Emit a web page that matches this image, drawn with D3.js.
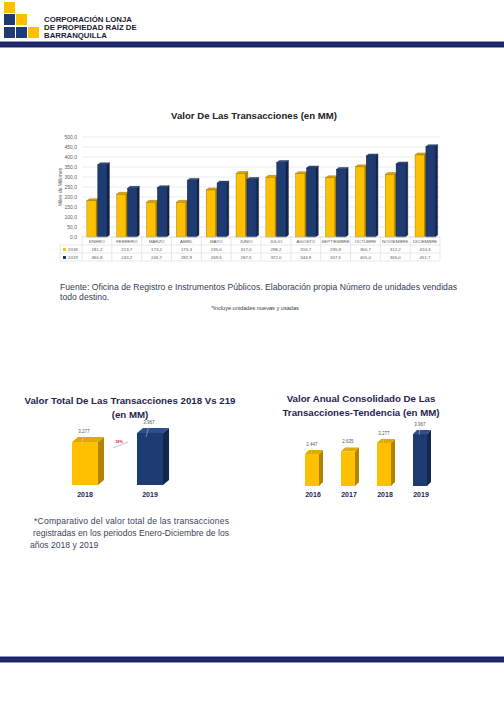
<!DOCTYPE html>
<html><head><meta charset="utf-8">
<script src="https://cdn.jsdelivr.net/npm/d3@7"></script>
<style>body{margin:0;background:#fff}svg{display:block}</style>
</head><body>
<svg id="c" width="504" height="705"></svg>
<script>
const months = ["ENERO","FEBRERO","MARZO","ABRIL","MAYO","JUNIO","JULIO","AGOSTO","SEPTIEMBRE","OCTUBRE","NOVIEMBRE","DICIEMBRE"];
const series = ["2018","2019"];
const values2018 = [181.2,213.7,173.2,173.3,235.0,317.0,298.2,316.7,295.9,350.7,312.2,410.3];
const values2019 = [360.8,243.2,246.7,282.9,269.5,287.5,372.0,344.9,337.5,405.0,365.0,451.7];
const yTicks = [0,50,100,150,200,250,300,350,400,450,500];
const totalYears = ["2018","2019"];
const totalValues = [3277,3967];
const changeLabel = "18%";
const annualYears = ["2016","2017","2018","2019"];
const annualValues = [2447,2635,3277,3967];

const svg = d3.select("#c");
const YEL = {front:"#FFC000", side:"#B08400", top:"#E0A800", stroke:"#8a6a00"};
const NAV = {front:"#1F3B73", side:"#13264D", top:"#2E4F8F", stroke:"#0c1a36"};
const fmtComma = v => v.toFixed(1).replace(".", ",");
const fmtDot = v => d3.format(",")(v).replace(",", ".");

function bar3d(g, x, yTop, w, yBase, dx, dy, c, sw) {
  const h = yBase - yTop;
  g.append("path").attr("d", `M${x+w},${yTop} L${x+w+dx},${yTop-dy} L${x+w+dx},${yBase-dy} L${x+w},${yBase} Z`).attr("fill", c.side).attr("stroke", c.stroke).attr("stroke-width", sw);
  g.append("path").attr("d", `M${x},${yTop} L${x+dx},${yTop-dy} L${x+w+dx},${yTop-dy} L${x+w},${yTop} Z`).attr("fill", c.top).attr("stroke", c.stroke).attr("stroke-width", sw);
  g.append("rect").attr("x", x).attr("y", yTop).attr("width", w).attr("height", h).attr("fill", c.front).attr("stroke", sw ? c.stroke : "none").attr("stroke-width", sw);
}

// ---------- Header ----------
const hdr = svg.append("g");
const sq = [[4,2,"#FFC000"],[4,14,"#1F3B73"],[16,14,"#FFC000"],[4,27,"#1F3B73"],[16,27,"#1F3B73"],[28,27,"#FFC000"]];
sq.forEach(s => hdr.append("rect").attr("x", s[0]).attr("y", s[1]).attr("width", 11).attr("height", 11).attr("fill", s[2]));
["CORPORACIÓN LONJA","DE PROPIEDAD RAÍZ DE","BARRANQUILLA"].forEach((t,i) =>
  hdr.append("text").attr("x", 44).attr("y", 21.5 + i*8).attr("font-family", "Liberation Sans Narrow, Liberation Sans, sans-serif")
    .attr("font-weight", "bold").attr("font-size", 7.8).attr("fill", "#1a1a33").text(t));
function band(y) {
  svg.append("rect").attr("x", 0).attr("y", y).attr("width", 504).attr("height", 7).attr("fill", "#8f97c4");
  svg.append("rect").attr("x", 0).attr("y", y+1).attr("width", 504).attr("height", 5).attr("fill", "#1c2260");
  svg.append("rect").attr("x", 0).attr("y", y+3).attr("width", 504).attr("height", 0.8).attr("fill", "#2f3a80");
}
band(41);
band(656);

// ---------- Main chart ----------
const main = svg.append("g");
main.append("text").attr("x", 254).attr("y", 119).attr("text-anchor", "middle")
  .attr("font-family", "Liberation Sans, Arial, sans-serif").attr("font-weight", "bold").attr("font-size", 9.6).attr("fill", "#222")
  .text("Valor De Las Transacciones (en MM)");

const x0 = d3.scaleBand().domain(months).range([82, 440]);
const xs = d3.scaleBand().domain(series).range([0, x0.bandwidth()]).paddingInner(0.15).paddingOuter(0.45);
const y = d3.scaleLinear().domain([0, 500]).range([237, 137]);

main.append("g").selectAll("line").data(yTicks).join("line")
  .attr("x1", 82).attr("x2", 440).attr("y1", d => y(d)).attr("y2", d => y(d))
  .attr("stroke", "#e4e4e4").attr("stroke-width", 0.7);
main.append("g").selectAll("text").data(yTicks).join("text")
  .attr("x", 77).attr("y", d => y(d) + 1.8).attr("text-anchor", "end")
  .attr("font-family", "Liberation Sans, Arial, sans-serif").attr("font-size", 5).attr("fill", "#595959")
  .text(d => fmtComma(d));
main.append("text").attr("transform", `translate(62,${y(250)}) rotate(-90)`).attr("text-anchor", "middle")
  .attr("font-family", "Liberation Sans, Arial, sans-serif").attr("font-size", 5).attr("fill", "#595959").text("Miles de Millones");

const barsG = main.append("g");
months.forEach((m, i) => {
  [[values2018[i], "2018", YEL], [values2019[i], "2019", NAV]].forEach(([v, s, c]) => {
    const bx = x0(m) + xs(s);
    bar3d(barsG, bx, y(v), xs.bandwidth(), y(0), 2.5, 2, c, 0.4);
  });
});

// table
const tbl = main.append("g").attr("font-family", "Liberation Sans, Arial, sans-serif").attr("font-size", 4.4).attr("fill", "#595959");
const rowsY = [237, 245, 253, 261];
rowsY.forEach((ry, k) => tbl.append("line").attr("x1", k === 0 ? 82 : 60).attr("x2", 440).attr("y1", ry).attr("y2", ry).attr("stroke", "#d9d9d9").attr("stroke-width", 0.6));
tbl.append("line").attr("x1", 60).attr("x2", 60).attr("y1", 245).attr("y2", 261).attr("stroke", "#d9d9d9").attr("stroke-width", 0.6);
months.forEach((m, i) => {
  tbl.append("line").attr("x1", x0(m)).attr("x2", x0(m)).attr("y1", 237).attr("y2", 261).attr("stroke", "#d9d9d9").attr("stroke-width", 0.6);
  const cx = x0(m) + x0.bandwidth()/2;
  tbl.append("text").attr("x", cx).attr("y", 243).attr("text-anchor", "middle").text(m);
  tbl.append("text").attr("x", cx).attr("y", 251).attr("text-anchor", "middle").text(fmtComma(values2018[i]));
  tbl.append("text").attr("x", cx).attr("y", 259).attr("text-anchor", "middle").text(fmtComma(values2019[i]));
});
tbl.append("line").attr("x1", 440).attr("x2", 440).attr("y1", 237).attr("y2", 261).attr("stroke", "#d9d9d9").attr("stroke-width", 0.6);
[["2018", YEL.front, 251], ["2019", NAV.front, 259]].forEach(([t, c, ty]) => {
  tbl.append("rect").attr("x", 63).attr("y", ty - 3).attr("width", 3).attr("height", 3).attr("fill", c);
  tbl.append("text").attr("x", 68).attr("y", ty).text(t);
});

// source text
const txt = svg.append("g").attr("font-family", "Liberation Sans, Arial, sans-serif").attr("fill", "#333a55");
txt.append("text").attr("x", 60).attr("y", 290).attr("font-size", 8.6).attr("textLength", 397).attr("lengthAdjust", "spacing")
  .text("Fuente: Oficina de Registro e Instrumentos Públicos.  Elaboración propia Número de unidades vendidas");
txt.append("text").attr("x", 60).attr("y", 300).attr("font-size", 8.6).text("todo destino.");
txt.append("text").attr("x", 255).attr("y", 310).attr("text-anchor", "middle").attr("font-size", 5.6).text("*Incluye unidades nuevas y usadas");

// ---------- Bottom-left chart ----------
const bl = svg.append("g");
const titleStyle = s => s.attr("font-family", "Liberation Sans, Arial, sans-serif").attr("font-weight", "bold").attr("font-size", 9.7).attr("fill", "#1f2450").attr("text-anchor", "middle");
bl.append("text").attr("x", 130).attr("y", 404).call(titleStyle).text("Valor Total De Las Transacciones 2018 Vs 219");
bl.append("text").attr("x", 130).attr("y", 417.5).call(titleStyle).text("(en MM)");
const xT = d3.scalePoint().domain(totalYears).range([85, 150]);
const yT = d3.scaleLinear().domain([0, 3967]).range([485, 433]);
totalYears.forEach((yr, i) => {
  const c = i === 0 ? YEL : NAV;
  const w = 26;
  const bx = xT(yr) - w/2;
  bar3d(bl, bx, yT(totalValues[i]), w, yT(0), 6, 5, c, 0);
  const lx = xT(yr) - 1, ly = yT(totalValues[i]) - 9;
  bl.append("line").attr("x1", lx).attr("y1", ly + 1.5).attr("x2", lx - 3).attr("y2", yT(totalValues[i]) + 4).attr("stroke", "#cfcfcf").attr("stroke-width", 0.5);
  bl.append("text").attr("x", lx).attr("y", ly).attr("text-anchor", "middle").attr("font-family", "Liberation Sans, Arial, sans-serif").attr("font-size", 4.5).attr("fill", "#555").text(fmtDot(totalValues[i]));
  bl.append("text").attr("x", xT(yr)).attr("y", 497).attr("text-anchor", "middle").attr("font-family", "Liberation Sans, Arial, sans-serif").attr("font-weight", "bold").attr("font-size", 7).attr("fill", "#1f2450").text(yr);
});
bl.append("line").attr("x1", 113).attr("y1", 448).attr("x2", 128).attr("y2", 442).attr("stroke", "#9fb4dc").attr("stroke-width", 0.8);
bl.append("text").attr("x", 119).attr("y", 443).attr("text-anchor", "middle").attr("font-family", "Liberation Sans, Arial, sans-serif").attr("font-weight", "bold").attr("font-size", 3.8).attr("fill", "#e0202a").text(changeLabel);

const cmp = svg.append("g").attr("font-family", "Liberation Sans, Arial, sans-serif").attr("font-size", 8.6).attr("fill", "#3a3f5c");
cmp.append("text").attr("x", 34).attr("y", 524).attr("textLength", 195).attr("lengthAdjust", "spacing").text("*Comparativo del valor total de las transacciones");
cmp.append("text").attr("x", 33).attr("y", 536).attr("textLength", 196).attr("lengthAdjust", "spacing").text("registradas en los periodos Enero-Diciembre de los");
cmp.append("text").attr("x", 30).attr("y", 548).text("años 2018 y 2019");

// ---------- Bottom-right chart ----------
const br = svg.append("g");
br.append("text").attr("x", 361).attr("y", 401.5).call(titleStyle).text("Valor Anual Consolidado De Las");
br.append("text").attr("x", 361).attr("y", 415.5).call(titleStyle).text("Transacciones-Tendencia (en MM)");
const xA = d3.scalePoint().domain(annualYears).range([313, 421]);
const yA = d3.scaleLinear().domain([0, 3967]).range([486, 434]);
annualYears.forEach((yr, i) => {
  const c = i === 3 ? NAV : YEL;
  const w = 14;
  const bx = xA(yr) - w/2 - 1;
  bar3d(br, bx, yA(annualValues[i]), w, yA(0), 4, 4, c, 0);
  const lx = xA(yr) - 1, ly = yA(annualValues[i]) - 8;
  br.append("line").attr("x1", lx).attr("y1", ly + 2).attr("x2", lx - 1).attr("y2", yA(annualValues[i]) + 1).attr("stroke", "#cfcfcf").attr("stroke-width", 0.5);
  br.append("text").attr("x", lx).attr("y", ly).attr("text-anchor", "middle").attr("font-family", "Liberation Sans, Arial, sans-serif").attr("font-size", 4.5).attr("fill", "#555").text(fmtDot(annualValues[i]));
  br.append("text").attr("x", xA(yr)).attr("y", 497).attr("text-anchor", "middle").attr("font-family", "Liberation Sans, Arial, sans-serif").attr("font-weight", "bold").attr("font-size", 7).attr("fill", "#1f2450").text(yr);
});
</script>
</body></html>
